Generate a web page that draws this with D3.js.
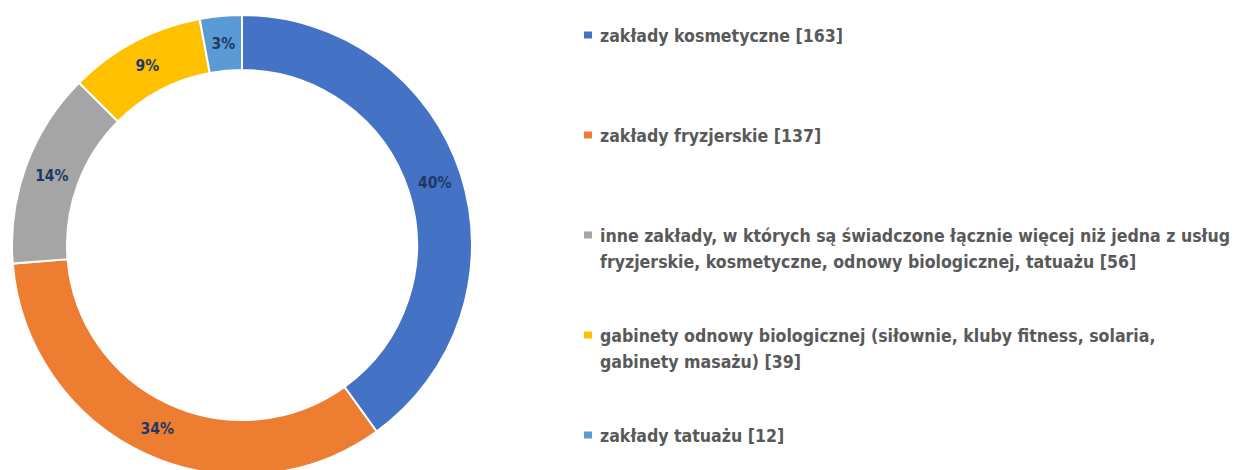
<!DOCTYPE html>
<html>
<head>
<meta charset="utf-8">
<script src="https://cdn.jsdelivr.net/npm/d3@7/dist/d3.min.js"></script>
<style>
  html, body { margin: 0; padding: 0; background: #fff; }
  svg { display: block; }
  .pct { font-family: "Liberation Sans Narrow", "DejaVu Sans Condensed", sans-serif; font-weight: bold; fill: #203864; }
  .legend-label { font-family: "Liberation Sans Narrow", "DejaVu Sans Condensed", sans-serif; font-weight: bold; fill: #595959; }
</style>
</head>
<body>
<div id="chart"></div>
<script>
const CATEGORIES = [
  "zakłady kosmetyczne",
  "zakłady fryzjerskie",
  "inne zakłady, w których są świadczone łącznie więcej niż jedna z usług\nfryzjerskie, kosmetyczne, odnowy biologicznej, tatuażu",
  "gabinety odnowy biologicznej (siłownie, kluby fitness, solaria,\ngabinety masażu)",
  "zakłady tatuażu"
];
const COUNTS = [163, 137, 56, 39, 12];
const PCT_LABELS = ["40%", "34%", "14%", "9%", "3%"];
const COLORS = ["#4472c4", "#ed7d31", "#a5a5a5", "#ffc000", "#5b9bd5"];

const W = 1239, H = 470;
const cx = 242, cy = 245;
const rOuter = 230, rInner = 175;

const svg = d3.select("#chart").append("svg")
  .attr("width", W)
  .attr("height", H)
  .attr("viewBox", `0 0 ${W} ${H}`);

const color = d3.scaleOrdinal().domain(d3.range(COUNTS.length)).range(COLORS);

const pie = d3.pie().sort(null).value(d => d);
const arcs = pie(COUNTS);
const arc = d3.arc().innerRadius(rInner).outerRadius(rOuter);

const g = svg.append("g").attr("transform", `translate(${cx},${cy})`);

g.selectAll("path.slice")
  .data(arcs)
  .join("path")
  .attr("class", "slice")
  .attr("d", arc)
  .attr("fill", (d, i) => color(i))
  .attr("stroke", "#fff")
  .attr("stroke-width", 2);

g.selectAll("text.pct")
  .data(arcs)
  .join("text")
  .attr("class", "pct")
  .attr("x", d => arc.centroid(d)[0])
  .attr("y", d => arc.centroid(d)[1])
  .attr("text-anchor", "middle")
  .attr("dy", "0.35em")
  .style("font-size", "15.5px")
  .text((d, i) => PCT_LABELS[i]);

// legend
const legX = 584, legY0 = 35, pitch = 100, lineH = 26;
const legend = svg.append("g");
const texts = [];

CATEGORIES.forEach((name, i) => {
  const row = legend.append("g").attr("transform", `translate(${legX},${legY0 + i * pitch})`);
  row.append("rect")
    .attr("x", 0).attr("y", -3.5)
    .attr("width", 8).attr("height", 7)
    .attr("fill", color(i));
  const lines = (name + " [" + COUNTS[i] + "]").split("\n");
  const t = row.append("text").attr("class", "legend-label").style("font-size", "19px");
  lines.forEach((ln, j) => {
    t.append("tspan").attr("x", 16).attr("y", 6.5 + j * lineH).text(ln);
  });
  texts.push(t);
});

// fit the font to the reference text widths (first entry ~243px, widest line <= 636px)
const firstW = texts[0].node().getComputedTextLength();
let maxW = 0;
legend.selectAll("tspan").each(function () { maxW = Math.max(maxW, this.getComputedTextLength()); });
const fs = Math.min(19 * 243 / firstW, 19 * 636 / maxW);
legend.selectAll("text.legend-label").style("font-size", `${fs.toFixed(2)}px`);
</script>
</body>
</html>
